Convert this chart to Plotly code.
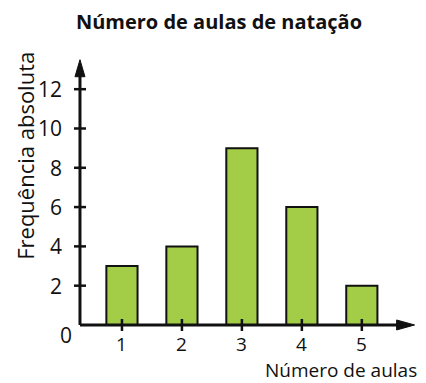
import plotly.graph_objects as go

categories = [1, 2, 3, 4, 5]
frequencias = [3, 4, 9, 6, 2]
y_ticks = [2, 4, 6, 8, 10, 12]
x_ticks = [1, 2, 3, 4, 5]

title = "Número de aulas de natação"
y_title = "Frequência absoluta"
x_title = "Número de aulas"

FONT = "Open Sans"
BAR_COLOR = "#a4cd47"
INK = "#111111"

X_RANGE = [-0.2, 5.97]
Y_RANGE = [-0.51, 13.74]


def px(x):
    return (x - X_RANGE[0]) / (X_RANGE[1] - X_RANGE[0])


def py(y):
    return (y - Y_RANGE[0]) / (Y_RANGE[1] - Y_RANGE[0])


fig = go.Figure()
fig.add_trace(go.Bar(
    x=categories, y=frequencias, width=0.52,
    marker=dict(color=BAR_COLOR, line=dict(color=INK, width=2)),
    hoverinfo="x+y",
))

axis_x = 0.3
x_end = 5.88
y_end = 13.5

shapes = []
shapes.append(dict(type="line", xref="x", yref="y", x0=axis_x, x1=x_end - 0.15, y0=0, y1=0,
                   line=dict(color=INK, width=3), layer="above"))
shapes.append(dict(type="line", xref="x", yref="y", x0=axis_x, x1=axis_x, y0=0, y1=y_end - 0.5,
                   line=dict(color=INK, width=3), layer="above"))
shapes.append(dict(type="path", xref="x", yref="y", xsizemode="pixel", ysizemode="pixel",
                   xanchor=axis_x, yanchor=y_end, path="M-5,-17 L5,-17 L0,0 Z",
                   fillcolor=INK, line=dict(color=INK, width=1), layer="above"))
shapes.append(dict(type="path", xref="x", yref="y", xsizemode="pixel", ysizemode="pixel",
                   xanchor=x_end, yanchor=0, path="M-18,-5 L-18,5 L0,0 Z",
                   fillcolor=INK, line=dict(color=INK, width=1), layer="above"))
for t in y_ticks:
    shapes.append(dict(type="line", xref="x", yref="y", xsizemode="pixel", xanchor=axis_x,
                       x0=-6, x1=6, y0=t, y1=t, line=dict(color=INK, width=2.5), layer="above"))
for t in x_ticks:
    shapes.append(dict(type="line", xref="x", yref="y", ysizemode="pixel", yanchor=0,
                       x0=t, x1=t, y0=-6, y1=6, line=dict(color=INK, width=2.5), layer="above"))

font = dict(family=FONT, size=21, color=INK)
annotations = []
for t in y_ticks:
    annotations.append(dict(x=px(0.03), y=py(t), xref="paper", yref="paper", text=str(t),
                            showarrow=False, xanchor="right", yanchor="middle", font=font))
for t in x_ticks:
    annotations.append(dict(x=px(t), y=py(-0.97), xref="paper", yref="paper", text=str(t),
                            showarrow=False, xanchor="center", yanchor="middle",
                            font=dict(family=FONT, size=19, color=INK)))
annotations.append(dict(x=px(0.06), y=py(-0.52), xref="paper", yref="paper", text="0",
                        showarrow=False, xanchor="center", yanchor="middle", font=font))
annotations.append(dict(x=px((419 - 62) / 60), y=py(-2.3), xref="paper", yref="paper",
                        text=x_title, showarrow=False, xanchor="right", yanchor="middle",
                        font=dict(family=FONT, size=19, color=INK)))
annotations.append(dict(x=px(-0.62), y=py(8.6), xref="paper", yref="paper", text=y_title,
                        showarrow=False, textangle=-90, xanchor="center", yanchor="middle",
                        font=dict(family=FONT, size=22, color=INK)))

W, H = 418, 375
fig.update_layout(
    width=W, height=H,
    margin=dict(l=42, r=6, t=47, b=48),
    paper_bgcolor="white", plot_bgcolor="white",
    showlegend=False,
    title=dict(text="<b>" + title + "</b>", x=211 / W, y=1 - 14 / H,
               xanchor="center", yanchor="middle",
               font=dict(family=FONT, size=20, color=INK)),
    xaxis=dict(range=X_RANGE, visible=False, fixedrange=True),
    yaxis=dict(range=Y_RANGE, visible=False, fixedrange=True),
    shapes=shapes, annotations=annotations,
)

fig.write_html("out.html")
